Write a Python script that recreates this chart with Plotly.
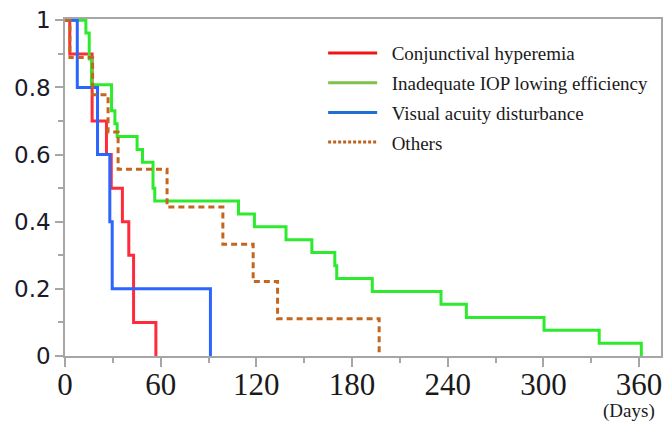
import plotly.graph_objects as go

# ---- data ----
red_t = [0, 3, 17, 26, 29, 36, 40, 43, 57]
red_s = [1, 0.9, 0.7, 0.6, 0.5, 0.4, 0.3, 0.1, 0]

green_t = [0, 13.1, 15.2, 16.6, 29.2, 31.3, 32.7, 45.2, 48.6, 55.2, 56.3, 108.8, 118.8,
           138.6, 154.8, 169.2, 170.4, 192.7, 235.8, 251.7, 300.4, 335, 361.4]
green_s = [1, 0.962, 0.885, 0.808, 0.731, 0.692, 0.654, 0.615, 0.577, 0.5, 0.462, 0.423,
           0.385, 0.346, 0.308, 0.269, 0.231, 0.192, 0.154, 0.115, 0.077, 0.038, 0]

blue_t = [0, 7.7, 20.4, 28.1, 29.6, 91.2]
blue_s = [1, 0.8, 0.6, 0.4, 0.2, 0]

other_t = [0, 3.1, 17.3, 27, 33.3, 64, 99, 118, 133.3, 197]
other_s = [1, 0.889, 0.778, 0.667, 0.556, 0.444, 0.333, 0.222, 0.111, 0]

names = ["Conjunctival hyperemia", "Inadequate IOP lowing efficiency",
         "Visual acuity disturbance", "Others"]

x_tickvals = [0, 60, 120, 180, 240, 300, 360]
y_tickvals = [0, 0.2, 0.4, 0.6, 0.8, 1]
y_ticktext = ["0", "0.2", "0.4", "0.6", "0.8", "1"]

curve_colors = ["#FF2B3C", "#2EEA2E", "#2B64FF", "#C4661E"]
legend_colors = ["#F01414", "#7DC24A", "#1F6FD2", "#C0601E"]

series = [(red_t, red_s), (green_t, green_s), (blue_t, blue_s), (other_t, other_s)]

fig = go.Figure()
for i, (t, s) in enumerate(series):
    fig.add_trace(go.Scatter(
        x=t, y=s, mode="lines", line_shape="hv",
        line=dict(color=curve_colors[i], width=3,
                  dash="6px,4px" if i == 3 else "solid"),
        showlegend=False, hoverinfo="skip"))

for i, nm in enumerate(names):
    fig.add_trace(go.Scatter(
        x=[None], y=[None], mode="lines", name="\u00a0\u00a0" + nm, legendgroup=nm,
        line=dict(color=legend_colors[i], width=3,
                  dash="3px,2px" if i == 3 else "solid")))

axis_line = "#A6A6A6"
fig.update_layout(
    width=664, height=422,
    margin=dict(l=65, r=1, t=19, b=66),
    paper_bgcolor="white", plot_bgcolor="white",
    showlegend=True,
    legend=dict(x=(324 - 65) / 598, y=0.955, xanchor="left", yanchor="top",
                font=dict(family="Liberation Serif", size=19, color="#1a1a1a"),
                itemwidth=49, tracegroupgap=2, bgcolor="rgba(255,255,255,0)"),
    xaxis=dict(range=[0, 373.75], tickvals=x_tickvals, showgrid=False, zeroline=False,
               showline=True, linecolor=axis_line, linewidth=1.5, mirror=True,
               ticks="outside", ticklen=9, tickcolor=axis_line, tickwidth=1.5,
               ticklabelstandoff=-9,
               minor=dict(dtick=30, tick0=0, ticklen=5, ticks="outside",
                          tickcolor=axis_line, tickwidth=1.5, showgrid=False),
               tickfont=dict(family="Liberation Serif", size=31, color="#1a1a1a")),
    yaxis=dict(range=[0, 1.004], tickvals=y_tickvals, ticktext=y_ticktext,
               showgrid=False, zeroline=False,
               showline=True, linecolor=axis_line, linewidth=1.5, mirror=True,
               ticks="outside", ticklen=8, tickcolor=axis_line, tickwidth=1.5,
               minor=dict(dtick=0.1, tick0=0, ticklen=5, ticks="outside",
                          tickcolor=axis_line, tickwidth=1.5, showgrid=False),
               tickfont=dict(family="DejaVu Sans", size=23, color="#1a1a2a")),
    annotations=[dict(text="(Days)", xref="paper", yref="paper", x=1, y=0,
                      xanchor="right", yanchor="top", yshift=-42, xshift=-4,
                      showarrow=False,
                      font=dict(family="Liberation Serif", size=19, color="#1a1a1a"))],
)

fig.write_html("out.html", config={"displayModeBar": False},
               post_script="document.body.style.margin='0';document.body.style.overflow='hidden';")
